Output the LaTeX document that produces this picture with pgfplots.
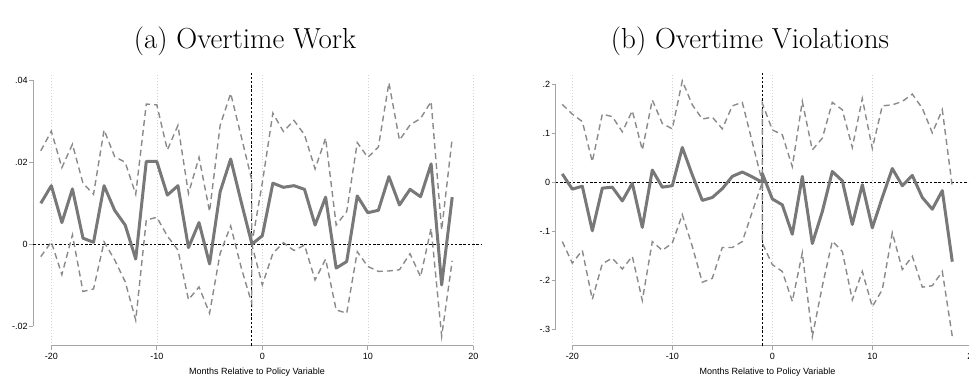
\documentclass[border=0pt]{standalone}
\usepackage{fontspec}
\usepackage{pgfplots}
\usepackage{pgfplotstable}
\pgfplotsset{compat=1.18}
\newfontfamily\helv{Liberation Sans}

\definecolor{est}{RGB}{120,120,120}
\definecolor{ci}{RGB}{138,138,138}
\definecolor{axgray}{RGB}{165,165,165}
\definecolor{gridgray}{RGB}{210,210,210}

% event-study estimates: month, coefficient, lower and upper 95% bounds
\pgfplotstableread{
x   b       lo      hi
-21 0.0100 -0.0030 0.0228
-20 0.0143  0.0006 0.0276
-19 0.0053 -0.0074 0.0187
-18 0.0135  0.0023 0.0244
-17 0.0015 -0.0115 0.0149
-16 0.0005 -0.0109 0.0122
-15 0.0143  0.0006 0.0279
-14 0.0083 -0.0038 0.0214
-13 0.0047 -0.0091 0.0200
-12 -0.0036 -0.0185 0.0122
-11 0.0202  0.0059 0.0342
-10 0.0202  0.0066 0.0340
-9  0.0120  0.0020 0.0230
-8  0.0143 -0.0014 0.0290
-7 -0.0008 -0.0135 0.0124
-6  0.0053 -0.0104 0.0212
-5 -0.0048 -0.0168 0.0080
-4  0.0128 -0.0022 0.0290
-3  0.0208  0.0045 0.0368
-2  0.0103 -0.0057 0.0263
-1  0.0002 -0.0144 0.0157
-1  0       0       0
0   0.0021 -0.0099 0.0150
1   0.0149 -0.0022 0.0320
2   0.0139  0.0004 0.0275
3   0.0143 -0.0015 0.0302
4   0.0134 -0.0002 0.0267
5   0.0047 -0.0087 0.0184
6   0.0115 -0.0036 0.0259
7  -0.0058 -0.0160 0.0047
8  -0.0042 -0.0168 0.0080
9   0.0118 -0.0018 0.0248
10  0.0077 -0.0054 0.0212
11  0.0083 -0.0066 0.0237
12  0.0165 -0.0065 0.0394
13  0.0096 -0.0062 0.0254
14  0.0134 -0.0023 0.0291
15  0.0116 -0.0079 0.0307
16  0.0196  0.0039 0.0348
17 -0.0099 -0.0224 0.0035
18  0.0115 -0.0040 0.0259
}\overtimework

\pgfplotstableread{
x   b      lo     hi
-21 0.017 -0.121 0.159
-20 -0.014 -0.165 0.139
-19 -0.008 -0.139 0.124
-18 -0.099 -0.239 0.042
-17 -0.012 -0.166 0.139
-16 -0.010 -0.155 0.134
-15 -0.038 -0.177 0.103
-14 -0.002 -0.151 0.146
-13 -0.092 -0.241 0.066
-12 0.025 -0.121 0.168
-11 -0.010 -0.139 0.120
-10 -0.007 -0.124 0.109
-9  0.071 -0.066 0.207
-8  0.015 -0.131 0.158
-7 -0.037 -0.204 0.129
-6 -0.031 -0.196 0.133
-5 -0.013 -0.133 0.109
-4  0.012 -0.133 0.156
-3  0.021 -0.121 0.163
-2  0.011 -0.060 0.082
-1  0      0      0
-1  0.018 -0.124 0.161
0  -0.034 -0.168 0.107
1  -0.046 -0.182 0.097
2  -0.106 -0.243 0.032
3   0.012 -0.144 0.165
4  -0.125 -0.315 0.066
5  -0.060 -0.212 0.090
6   0.022 -0.120 0.163
7   0.003 -0.141 0.148
8  -0.086 -0.240 0.071
9  -0.005 -0.182 0.171
10 -0.093 -0.254 0.069
11 -0.031 -0.219 0.156
12  0.028 -0.103 0.158
13 -0.007 -0.178 0.165
14  0.014 -0.151 0.180
15 -0.031 -0.214 0.151
16 -0.055 -0.211 0.101
17 -0.017 -0.182 0.148
18 -0.162 -0.315 -0.009
}\overtimeviol

\tikzset{
  refline/.style={black, line width=0.8pt, dash pattern=on 2.5pt off 1.8pt},
  axisline/.style={axgray, line width=0.8pt},
}

\pgfplotsset{
  evstudy/.style={
    scale only axis,
    clip=false,
    axis x line*=bottom, axis y line*=left,
    axis line style={draw=none},
    tick align=outside,
    major tick length=4pt,
    tick style={axgray, line width=0.8pt},
    xtick={-20,-10,0,10,20},
    xticklabels={-20,-10,0,10,20},
    scaled ticks=false,
    xmajorgrids,
    grid style={gridgray, dash pattern=on 1pt off 2pt, line width=0.6pt},
    tick label style={font=\helv\fontsize{9}{10}\selectfont, text=black},
    yticklabel style={inner xsep=1.5pt},
    xlabel={Months Relative to Policy Variable},
    xlabel style={font=\helv\fontsize{9}{10}\selectfont, yshift=-1.5pt},
  },
  estline/.style={est, line width=3pt, line join=round, mark=none},
  ciline/.style={ci, line width=1.4pt, dash pattern=on 6pt off 4pt, mark=none},
}

\begin{document}
\begin{tikzpicture}
\useasboundingbox (0pt,0pt) rectangle (969pt,376pt);

\node[font=\fontsize{29}{34}\selectfont, anchor=base] at (245pt,328pt) {(a) Overtime Work};
\node[font=\fontsize{29}{34}\selectfont, anchor=base] at (750pt,328pt) {(b) Overtime Violations};

% panel (a)
\begin{axis}[evstudy,
  at={(33.4pt,30.4pt)}, anchor=south west,
  width=447.3pt, height=272.7pt,
  xmin=-21.7, xmax=20.7, ymin=-0.0247, ymax=0.0418,
  ytick={-0.02,0,0.02,0.04}, yticklabels={-.02,0,.02,.04}]
  \draw[axisline] (axis cs:-20,-0.0247) -- (axis cs:20,-0.0247);
  \draw[axisline] (axis cs:-21.7,-0.02) -- (axis cs:-21.7,0.04);
  \draw[refline] (axis cs:-21.7,0) -- (axis cs:20.7,0);
  \draw[refline] (axis cs:-1,-0.0247) -- (axis cs:-1,0.0418);
  \addplot[ciline] table[x=x, y=hi] {\overtimework};
  \addplot[ciline] table[x=x, y=lo] {\overtimework};
  \addplot[estline] table[x=x, y=b] {\overtimework};
\end{axis}

% panel (b)
\begin{axis}[evstudy,
  at={(555.7pt,30.3pt)}, anchor=south west,
  width=423.6pt, height=272.7pt,
  xmin=-21.66, xmax=20.7, ymin=-0.3335, ymax=0.223,
  ytick={-0.3,-0.2,-0.1,0,0.1,0.2}, yticklabels={-.3,-.2,-.1,0,.1,.2}]
  \draw[axisline] (axis cs:-20,-0.3335) -- (axis cs:20,-0.3335);
  \draw[axisline] (axis cs:-21.66,-0.3) -- (axis cs:-21.66,0.2);
  \draw[refline] (axis cs:-21.66,0) -- (axis cs:20.7,0);
  \draw[refline] (axis cs:-1,-0.3335) -- (axis cs:-1,0.223);
  \addplot[ciline] table[x=x, y=hi] {\overtimeviol};
  \addplot[ciline] table[x=x, y=lo] {\overtimeviol};
  \addplot[estline] table[x=x, y=b] {\overtimeviol};
\end{axis}
\end{tikzpicture}
\end{document}
